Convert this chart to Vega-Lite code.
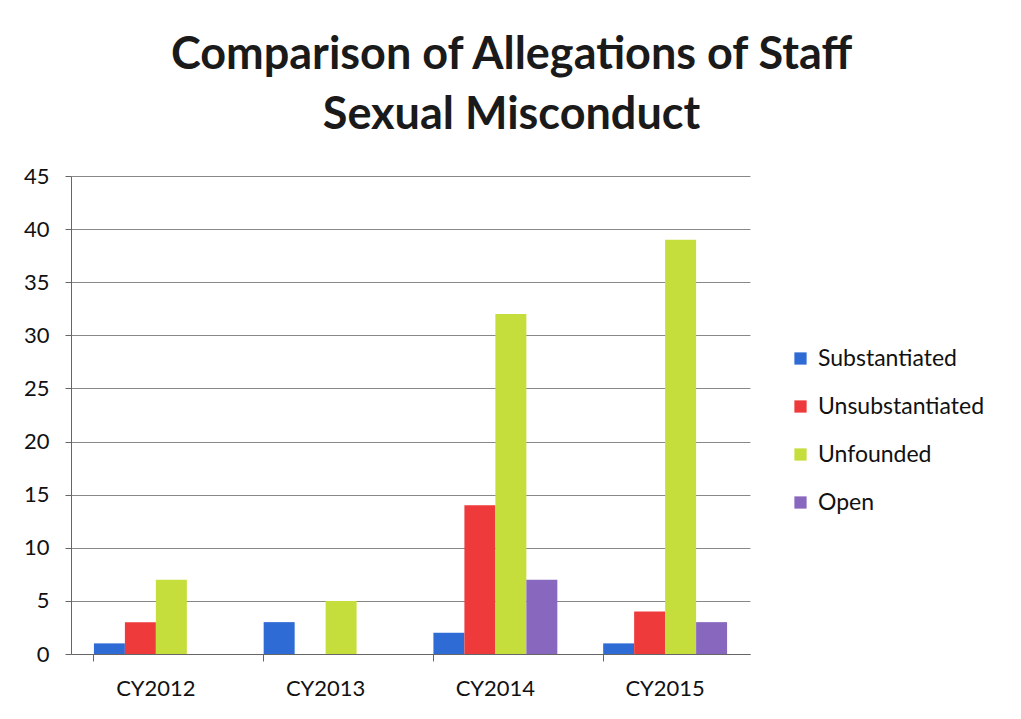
{
  "$schema": "https://vega.github.io/schema/vega-lite/v6.json",
  "autosize": {"type": "none"},
  "width": 679,
  "height": 478,
  "padding": {"left": 71, "top": 176, "right": 271, "bottom": 65},
  "background": "white",
  "title": {
    "text": ["Comparison of Allegations of Staff", "Sexual Misconduct"],
    "font": "Lato",
    "fontSize": 45,
    "fontWeight": "bold",
    "color": "#1a1a1a",
    "anchor": "middle",
    "dx": 101,
    "offset": 27,
    "lineHeight": 60
  },
  "data": {
    "values": [
      {"year": "CY2012", "category": "Substantiated", "count": 1},
      {"year": "CY2012", "category": "Unsubstantiated", "count": 3},
      {"year": "CY2012", "category": "Unfounded", "count": 7},
      {"year": "CY2012", "category": "Open", "count": 0},
      {"year": "CY2013", "category": "Substantiated", "count": 3},
      {"year": "CY2013", "category": "Unsubstantiated", "count": 0},
      {"year": "CY2013", "category": "Unfounded", "count": 5},
      {"year": "CY2013", "category": "Open", "count": 0},
      {"year": "CY2014", "category": "Substantiated", "count": 2},
      {"year": "CY2014", "category": "Unsubstantiated", "count": 14},
      {"year": "CY2014", "category": "Unfounded", "count": 32},
      {"year": "CY2014", "category": "Open", "count": 7},
      {"year": "CY2015", "category": "Substantiated", "count": 1},
      {"year": "CY2015", "category": "Unsubstantiated", "count": 4},
      {"year": "CY2015", "category": "Unfounded", "count": 39},
      {"year": "CY2015", "category": "Open", "count": 3}
    ]
  },
  "mark": {"type": "bar"},
  "encoding": {
    "x": {
      "field": "year",
      "type": "nominal",
      "title": null,
      "scale": {"paddingInner": 0.27, "paddingOuter": 0.135},
      "axis": {
        "labelAngle": 0,
        "labelFont": "Lato",
        "labelFontSize": 22,
        "labelColor": "#111",
        "labelPadding": 17,
        "bandPosition": 0,
        "tickSize": 7,
        "tickColor": "#666",
        "domainColor": "#666",
        "grid": false
      }
    },
    "xOffset": {
      "field": "category",
      "type": "nominal",
      "sort": ["Substantiated", "Unsubstantiated", "Unfounded", "Open"],
      "scale": {"paddingInner": 0, "paddingOuter": 0}
    },
    "y": {
      "field": "count",
      "type": "quantitative",
      "title": null,
      "scale": {"domain": [0, 45]},
      "axis": {
        "values": [0, 5, 10, 15, 20, 25, 30, 35, 40, 45],
        "labelFont": "Lato",
        "labelFontSize": 22,
        "labelColor": "#111",
        "labelPadding": 16,
        "tickSize": 6,
        "tickColor": "#666",
        "domainColor": "#666",
        "gridColor": "#888",
        "gridWidth": 1.2
      }
    },
    "color": {
      "field": "category",
      "type": "nominal",
      "sort": ["Substantiated", "Unsubstantiated", "Unfounded", "Open"],
      "scale": {
        "domain": ["Substantiated", "Unsubstantiated", "Unfounded", "Open"],
        "range": ["#2F6BD4", "#EE3A3A", "#C6DE3C", "#8868BE"]
      },
      "legend": {
        "title": null,
        "orient": "none",
        "legendX": 718,
        "legendY": 171,
        "symbolType": "square",
        "symbolSize": 150,
        "symbolStrokeWidth": 0,
        "labelFont": "Lato",
        "labelFontSize": 23,
        "labelLimit": 0,
        "labelColor": "#111",
        "labelOffset": 6,
        "rowPadding": 24
      }
    }
  },
  "config": {"view": {"stroke": null}}
}
